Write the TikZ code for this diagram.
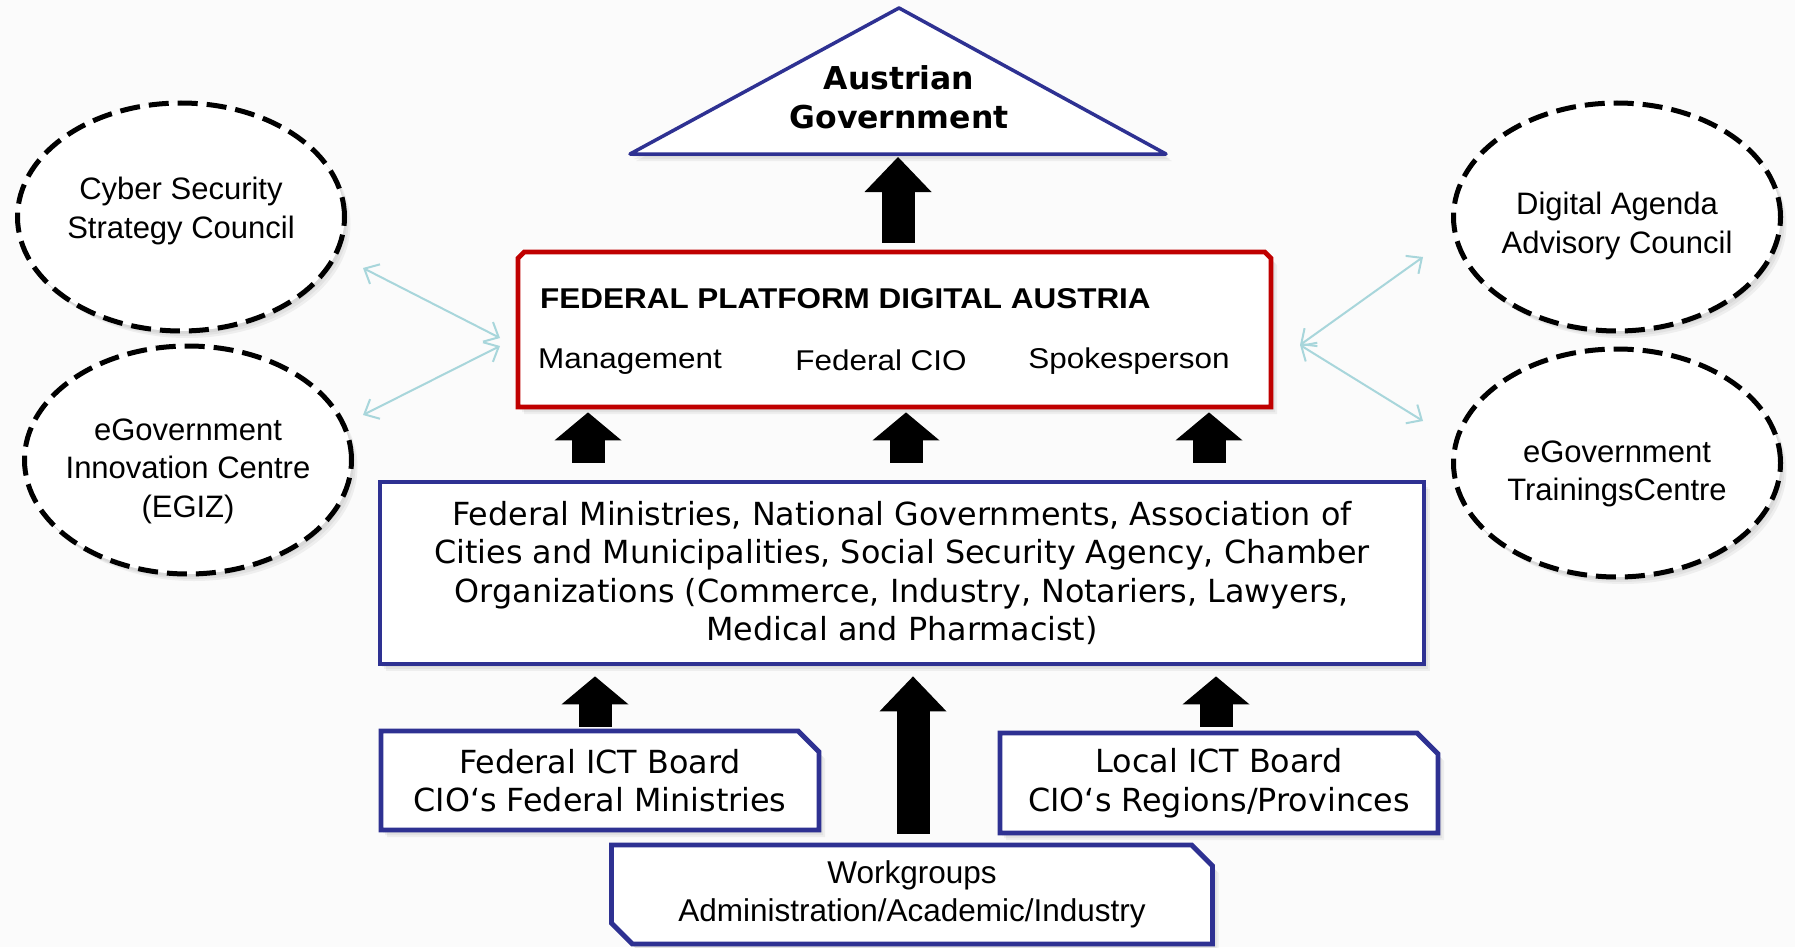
\documentclass[tikz,border=0pt]{standalone}
\usepackage{fontspec}
\usetikzlibrary{shapes.misc, shapes.geometric, arrows.meta, shadows}
\newfontfamily\arialfont{Liberation Sans}
\newfontfamily\verdanafont{DejaVu Sans}
\newfontfamily\stretchfont[FakeStretch=1.1]{Liberation Sans}
\definecolor{boardblue}{RGB}{46,49,146}
\definecolor{platformred}{RGB}{192,0,0}
\definecolor{linkcyan}{RGB}{168,214,219}
\definecolor{paper}{RGB}{251,251,251}
\tikzset{
softshadow/.style={drop shadow={opacity=0.1, shadow xshift=2pt, shadow yshift=-3pt},
  drop shadow={opacity=0.1, shadow xshift=4pt, shadow yshift=-5pt},
  drop shadow={opacity=0.1, shadow xshift=6pt, shadow yshift=-7pt}}, % blurred grey shadow
council/.style={ellipse, draw=black, line width=5pt, dash pattern=on 20pt off 9pt,
  fill=white, minimum width=327pt, minimum height=228pt, softshadow}, % dashed advisory bodies
counciltext/.style={align=center, inner sep=0pt, font=\arialfont\fontsize{31}{38.5}\selectfont},
board/.style={rectangle, draw=boardblue, line width=4.8pt, fill=white, align=center, softshadow},
chamfer/.style={chamfered rectangle, chamfered rectangle xsep=18pt, chamfered rectangle corners={#1}},
verdanatext/.style={font=\verdanafont\fontsize{31.8}{38.5}\selectfont},
arialtext/.style={font=\arialfont\fontsize{31.5}{38.5}\selectfont},
platform/.style={chamfered rectangle, chamfered rectangle xsep=21pt,
  chamfered rectangle corners={north west, north east}, draw=platformred, line width=4.8pt,
  fill=white, minimum width=753pt, minimum height=155pt, softshadow},
platformtext/.style={inner sep=0pt, font=\stretchfont\fontsize{28.6}{34}\selectfont},
platformtitle/.style={inner sep=0pt, font=\stretchfont\bfseries\fontsize{28.6}{34}\selectfont},
govline/.style={draw=boardblue, line width=3.5pt, line join=round, fill=white, softshadow},
blockarrow/.style={->, >={Triangle[length=#1, width=67pt, line width=0pt]}, line width=33pt, black},
blockarrow/.default=28pt,
link/.style={<->, >={Straight Barb[length=12pt, width=22pt]}, draw=linkcyan, line width=2pt},
}
\begin{document}
\begin{tikzpicture}[x=1pt, y=-1pt]
  \fill[paper] (0,0) rectangle (1795,947);
  \useasboundingbox (0,0) rectangle (1795,947);

  % government on top
  \draw[govline] (630,154) -- (899,8) -- (1166,154) -- cycle;
  \node[align=center, inner sep=0pt, font=\verdanafont\bfseries\fontsize{31.5}{39}\selectfont] (gov) at (899,97) {Austrian\\Government};
  \coordinate (govbase) at (898,154);

  % federal platform
  \node[platform] (fp) at (894.5,329.5) {};
  \node[platformtitle, anchor=base west] (fptitle) at (540,308) {FEDERAL PLATFORM DIGITAL AUSTRIA};
  \node[platformtext, anchor=base west] (mgmt) at (538,368) {Management};
  \node[platformtext, anchor=base] (cio) at (881,370) {Federal CIO};
  \node[platformtext, anchor=base] (speaker) at (1129,368) {Spokesperson};

  % members and boards
  \node[board, verdanatext, minimum width=1044pt, minimum height=182pt] (members) at (902,573)
    {Federal Ministries, National Governments, Association of\\Cities and Municipalities, Social Security Agency, Chamber\\Organizations (Commerce, Industry, Notariers, Lawyers,\\Medical and Pharmacist)};
  \node[board, chamfer=north east, verdanatext, minimum width=438pt, minimum height=99pt] (fedict) at (600,780.5)
    {Federal ICT Board\\CIO‘s Federal Ministries};
  \node[board, chamfer=north east, verdanatext, minimum width=438pt, minimum height=100pt] (localict) at (1219,783)
    {Local ICT Board\\CIO‘s Regions/Provinces};
  \node[board, chamfer={north east, south west}, arialtext, minimum width=601pt, minimum height=99pt] (workgroups) at (912,894.5)
    {Workgroups\\Administration/Academic/Industry};

  % councils
  \node[council] (cyber) at (181,217) {};
  \node[counciltext] (cybertext) at ([yshift=6pt]cyber.center) {Cyber Security\\Strategy Council};
  \node[council] (egiz) at (188,460) {};
  \node[counciltext] (egiztext) at ([yshift=-11pt]egiz.center) {eGovernment\\Innovation Centre\\(EGIZ)};
  \node[council] (agenda) at (1617,217) {};
  \node[counciltext] (agendatext) at ([yshift=-9pt]agenda.center) {Digital Agenda\\Advisory Council};
  \node[council] (training) at (1617,463) {};
  \node[counciltext] (trainingtext) at ([yshift=-11pt]training.center) {eGovernment\\TrainingsCentre};

  % links to the councils
  \coordinate (cyberend) at (363,268);
  \coordinate (egizend) at (363,415);
  \coordinate (agendaend) at (1423,257);
  \coordinate (trainingend) at (1423,421);
  \coordinate (fpleftup) at (500,338);
  \coordinate (fpleftdown) at (500,346);
  \coordinate (fpright) at (1300,345);
  \draw[link] (cyberend) -- (fpleftup);
  \draw[link] (egizend) -- (fpleftdown);
  \draw[link] (fpright) -- (agendaend);
  \draw[link] (fpright) -- (trainingend);

  % block arrows upwards
  \draw[blockarrow=35pt, shorten <=7pt, shorten >=3pt] (govbase |- fp.north) -- (govbase);
  \path[blockarrow, shorten <=17pt, shorten >=3pt]
    (588,0 |- members.north) edge (588,0 |- fp.south)
    (906,0 |- members.north) edge (906,0 |- fp.south)
    (1209,0 |- members.north) edge (1209,0 |- fp.south);
  \draw[blockarrow, shorten <=2pt, shorten >=10pt] (595,0 |- fedict.north) -- (595,0 |- members.south);
  \draw[blockarrow, shorten <=4pt, shorten >=10pt] (1216,0 |- localict.north) -- (1216,0 |- members.south);
  \draw[blockarrow=35pt, shorten <=9pt, shorten >=10pt] (913,0 |- workgroups.north) -- (913,0 |- members.south);
\end{tikzpicture}
\end{document}
